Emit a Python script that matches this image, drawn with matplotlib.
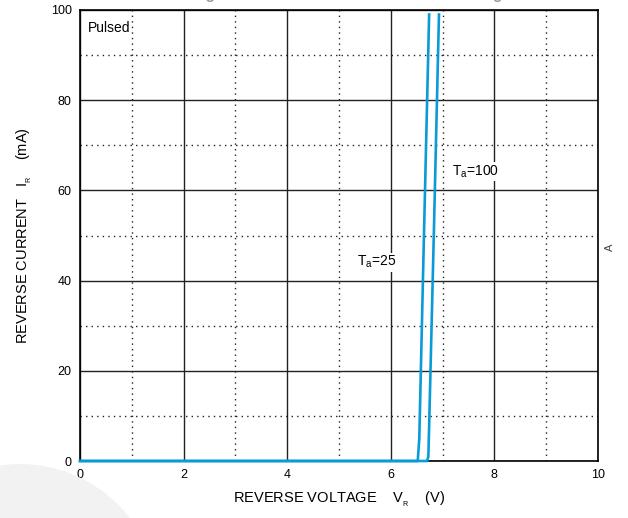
from matplotlib import pyplot as plt
import matplotlib as mpl
from matplotlib.patches import Ellipse

mpl.rcParams["font.family"] = ["Liberation Sans", "DejaVu Sans"]
mpl.rcParams["mathtext.fontset"] = "custom"
mpl.rcParams["mathtext.rm"] = "Liberation Sans"
mpl.rcParams["mathtext.it"] = "Liberation Sans"

# reverse characteristics (V, mA)
v_25 = [0.0, 6.52, 6.55, 6.64, 6.74]
i_25 = [0.0, 0.0, 5.0, 50.0, 99.0]
v_100 = [0.0, 6.70, 6.725, 6.745, 6.83, 6.93]
i_100 = [0.0, 0.0, 1.0, 10.0, 50.0, 99.0]

x_ticks = [0, 2, 4, 6, 8, 10]
y_ticks = [0, 20, 40, 60, 80, 100]
curve_color = "#0a9ad8"

fig = plt.figure(figsize=(6.28, 5.18), dpi=100)
ax = fig.add_axes([80 / 628, 57 / 518, 518 / 628, 451 / 518])

# faint watermark circle in the lower left corner
fig.patches.append(Ellipse((20 / 628, 1 - 603 / 518), 2 * 139 / 628, 2 * 139 / 518,
                           transform=fig.transFigure, facecolor="#f2f2f2",
                           edgecolor="none", zorder=0))

ax.plot(v_25, i_25, color=curve_color, lw=1.9, zorder=3, clip_on=False)
ax.plot(v_100, i_100, color=curve_color, lw=1.9, zorder=3, clip_on=False)

ax.set_xlim(0, 10)
ax.set_ylim(0, 100)
ax.set_xticks(x_ticks)
ax.set_yticks(y_ticks)
ax.set_xticks([1, 3, 5, 7, 9], minor=True)
ax.set_yticks([10, 30, 50, 70, 90], minor=True)
ax.tick_params(which="both", length=0, labelsize=9, pad=6)
ax.grid(True, which="major", color="#222222", lw=1.0, ls="-")
ax.grid(True, which="minor", color="#222222", lw=1.0, ls=(0, (1, 3)))
for s in ax.spines.values():
    s.set_linewidth(1.2)
    s.set_color("black")

ax.set_xlabel(r"REVERSE VOLTAGE    $\mathregular{V_{_R}}$    (V)", fontsize=10.5, labelpad=6)
ax.set_ylabel(r"REVERSE CURRENT   $\mathregular{I_{_R}}$    (mA)", fontsize=10.5, labelpad=12)

ax.text(0.15, 96, "Pulsed", fontsize=10, va="center", ha="left")
ax.text(5.73, 44.1, r"$\mathregular{T_a}$=25", fontsize=10, va="center", ha="center",
        bbox=dict(facecolor="white", edgecolor="none", pad=1))
ax.text(7.64, 64.1, r"$\mathregular{T_a}$=100", fontsize=10, va="center", ha="center",
        bbox=dict(facecolor="white", edgecolor="none", pad=1))

# title cut off by the top edge, only its lowest pixels show
fig.text(0.56, 1 + 0.5 / 518, r"Fig. 4   Reverse Current vs. Reverse Voltage",
         fontsize=11, fontweight="bold", ha="center", va="baseline", color="#999999")
fig.text(610 / 628, 1 - 247 / 518, "A", fontsize=8, rotation=90, ha="center", va="center",
         color="#444444")

fig.savefig("out.png", dpi=100)
